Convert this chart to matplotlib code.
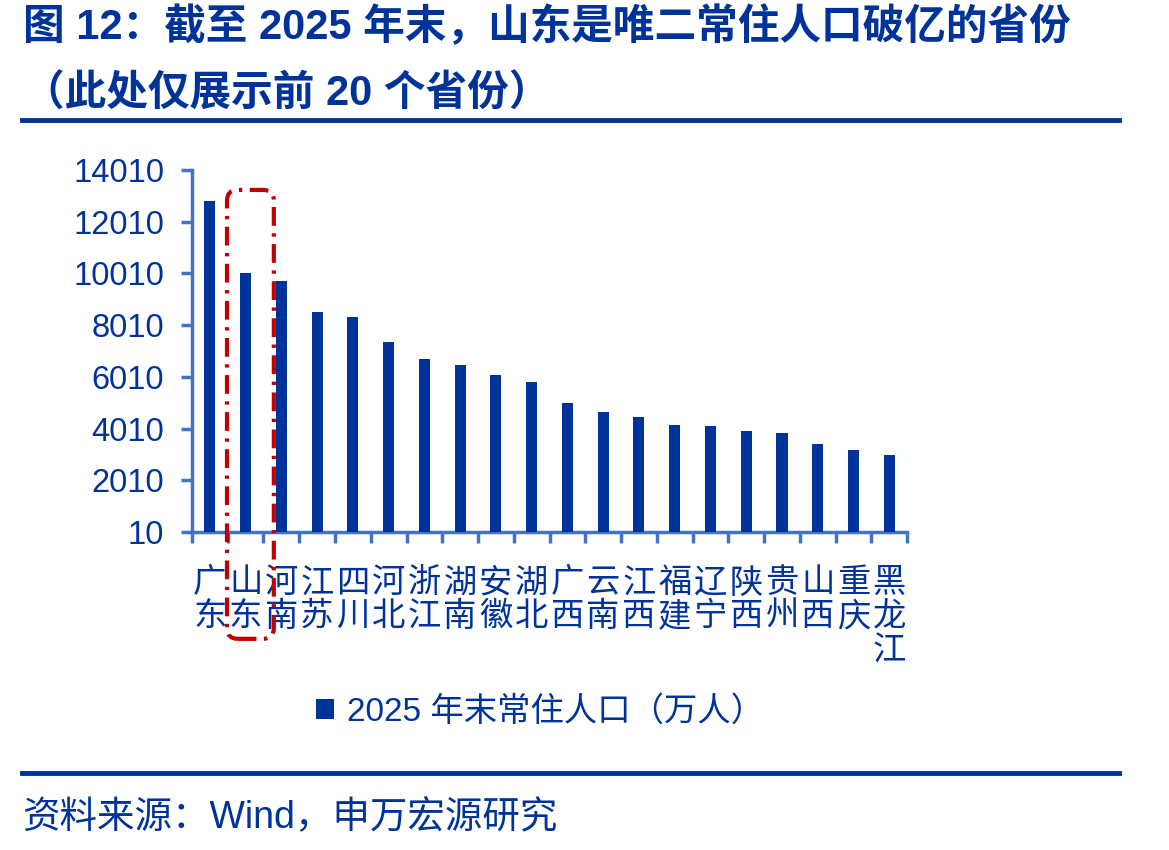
import matplotlib.pyplot as plt
import matplotlib.transforms as mtransforms
from matplotlib.patches import FancyBboxPatch

plt.rcParams['font.family'] = ['Liberation Sans', 'Noto Sans CJK SC', 'DejaVu Sans']

provinces = ["广东", "山东", "河南", "江苏", "四川", "河北", "浙江", "湖南", "安徽", "湖北",
             "广西", "云南", "江西", "福建", "辽宁", "陕西", "贵州", "山西", "重庆", "黑龙江"]
population = [12820, 10010, 9715, 8505, 8310, 7345, 6690, 6465, 6070, 5800,
              4985, 4640, 4455, 4160, 4110, 3915, 3840, 3415, 3170, 2985]
yticks = [10, 2010, 4010, 6010, 8010, 10010, 12010, 14010]
series_name = "2025 年末常住人口（万人）"
title = "图 12：截至 2025 年末，山东是唯二常住人口破亿的省份\n（此处仅展示前 20 个省份）"
source = "资料来源：Wind，申万宏源研究"

navy = "#003399"
axis_blue = "#4472C4"
red = "#C00000"

fig = plt.figure(figsize=(11.69, 8.5), dpi=100)
ax = fig.add_axes([0.1642, 0.3741, 0.6118, 0.4259])

x = list(range(len(provinces)))
bars = ax.bar(x, population, width=0.31, color=navy, label=series_name, zorder=3)

ax.set_xlim(-0.5, len(provinces) - 0.5)
ax.set_ylim(10, 14010)
ax.set_yticks(yticks)
ax.set_yticklabels([str(v) for v in yticks], fontsize=23.5, color=navy)

labels = ["\n".join(list(p)) for p in provinces]
ax.set_xticks(x)
ax.set_xticklabels(labels, fontsize=24, color=navy, va="top", linespacing=0.95,
                   family=['Noto Sans CJK SC', 'DejaVu Sans'])
ax.tick_params(axis="x", which="major", length=0, pad=24)
ax.set_xticks([i - 0.5 for i in range(len(provinces) + 1)], minor=True)
ax.tick_params(axis="x", which="minor", length=8, width=2.5, color=axis_blue, direction="out")
ax.tick_params(axis="y", length=8, width=2.5, color=axis_blue, direction="out", pad=12)

for s in ["top", "right"]:
    ax.spines[s].set_visible(False)
for s in ["left", "bottom"]:
    ax.spines[s].set_color(axis_blue)
    ax.spines[s].set_linewidth(2.5)

# highlight box around Shandong
trans = mtransforms.blended_transform_factory(ax.transData, ax.transAxes)
box = FancyBboxPatch((0.48, -0.295), 1.31, 1.24,
                     boxstyle="round,pad=0,rounding_size=0.3",
                     mutation_aspect=0.099,
                     transform=trans, fill=False, edgecolor=red,
                     linewidth=3, linestyle=(0, (4.5, 1.8, 0.8, 1.8)), clip_on=False, zorder=4)
ax.add_patch(box)

leg = fig.legend(handles=[bars], labels=[series_name], loc="center",
                 bbox_to_anchor=(0.462, 0.162), frameon=False,
                 handlelength=0.55, handleheight=0.55, handletextpad=0.4,
                 prop={'family': ['Liberation Sans', 'Noto Sans CJK SC'], 'size': 24})
for t in leg.get_texts():
    t.set_color(navy)

fig.text(0.02, 0.992, title, fontsize=30, fontweight="bold", color=navy,
         va="top", ha="left", linespacing=1.85,
         family=['Liberation Sans', 'Noto Sans CJK SC'])
fig.add_artist(plt.Line2D([0.019, 0.957], [0.859, 0.859], color=navy, linewidth=3.5,
                          transform=fig.transFigure))
fig.add_artist(plt.Line2D([0.019, 0.957], [0.091, 0.091], color=navy, linewidth=3.5,
                          transform=fig.transFigure))
fig.text(0.019, 0.038, source, fontsize=27, color=navy, va="center", ha="left",
         family=['Liberation Sans', 'Noto Sans CJK SC'])

fig.savefig("out.png", dpi=100)
